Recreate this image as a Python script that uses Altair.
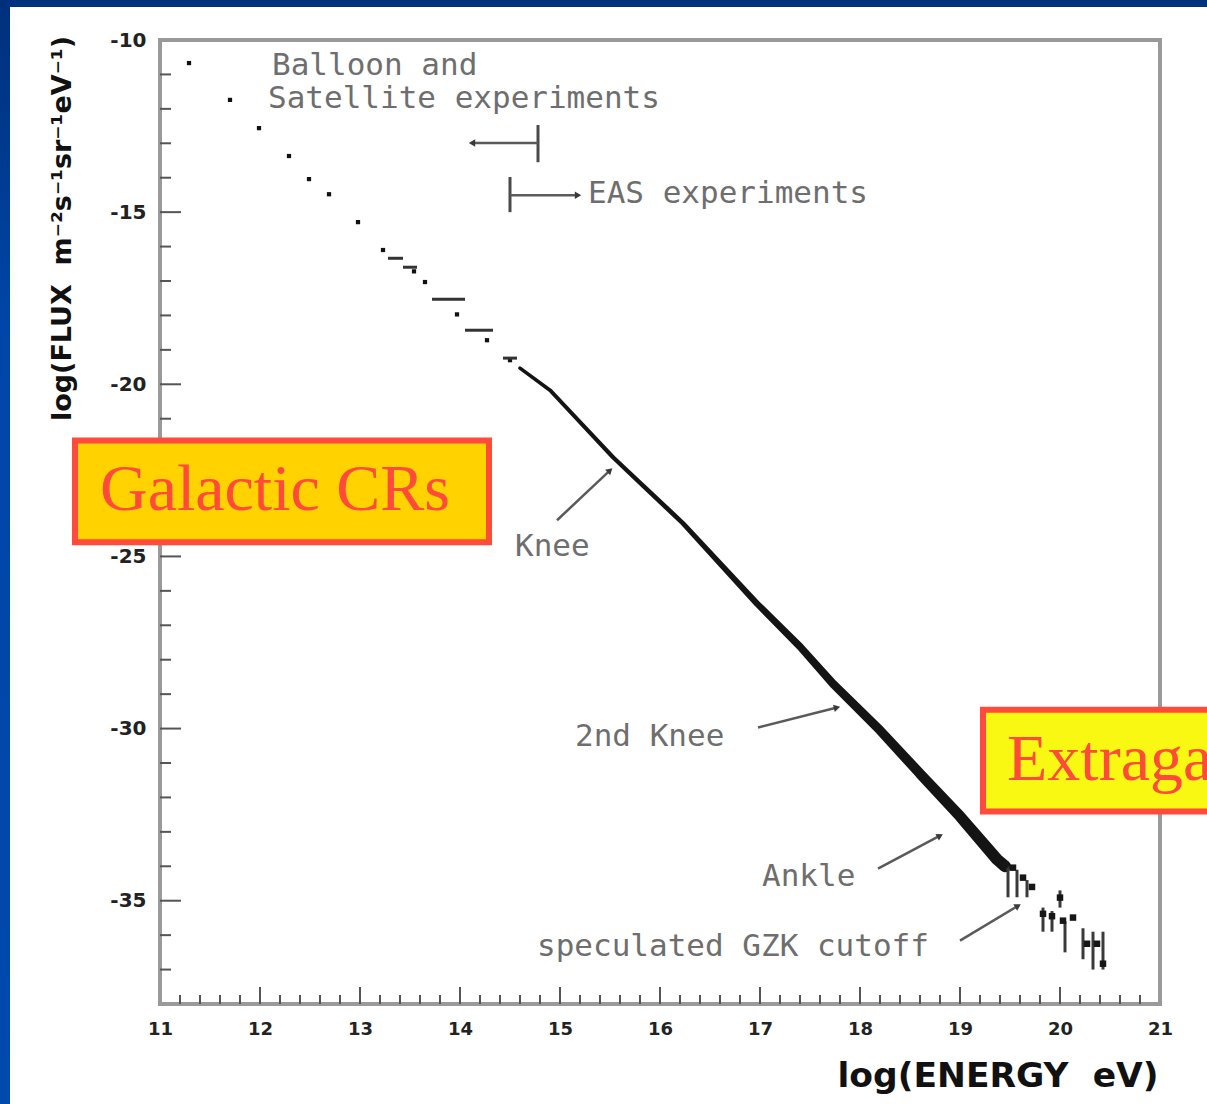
import math
import altair as alt
import pandas as pd

# ---------------- data ----------------
# direct (balloon / satellite) measurements, log10(E/eV) vs log10(flux)
direct_energy = [11.29, 11.70, 11.99, 12.29, 12.49, 12.69, 12.98, 13.23,
                 13.54, 13.65, 13.97, 14.27, 14.50]
direct_flux = [-10.67, -11.74, -12.56, -13.37, -14.04, -14.48, -15.29, -16.10,
               -16.72, -17.03, -17.97, -18.72, -19.30]

# energy bins shown as short horizontal bars
bin_lo = [13.28, 13.43, 13.72, 14.05, 14.43]
bin_hi = [13.43, 13.57, 14.05, 14.33, 14.57]
bin_flux = [-16.34, -16.60, -17.53, -18.43, -19.24]

# dense air-shower band
band_energy = [14.60, 14.90, 15.53, 15.83, 16.23, 16.97, 17.40, 17.73,
               18.20, 18.60, 19.00, 19.37, 19.45]
band_flux = [-19.53, -20.17, -22.12, -22.94, -24.04, -26.37, -27.62, -28.70,
             -30.05, -31.31, -32.55, -33.80, -34.00]

# highest-energy points and their error bars
hi_energy = [19.45, 19.53, 19.63, 19.72, 19.83, 19.92, 20.00, 20.03, 20.13,
             20.27, 20.37, 20.43]
hi_flux = [-33.95, -34.04, -34.33, -34.60, -35.38, -35.45, -34.91, -35.58,
           -35.49, -36.25, -36.25, -36.83]
err_energy = [19.48, 19.57, 19.67, 19.83, 19.92, 20.00, 20.05, 20.23, 20.33, 20.43]
err_top = [-34.0, -34.1, -34.4, -35.2, -35.3, -34.7, -35.6, -35.8, -35.9, -35.9]
err_bot = [-34.9, -34.9, -34.9, -35.9, -35.9, -35.2, -36.5, -36.7, -37.0, -37.0]

# axis labels
x_label_values = [11, 12, 13, 14, 15, 16, 17, 18, 19, 20, 21]
y_label_values = [-10, -15, -20, -25, -30, -35]

# text annotations (left edge / baseline in data units)
note_text = ["Balloon and", "Satellite experiments", "EAS experiments",
             "Knee", "2nd Knee", "Ankle", "speculated GZK cutoff"]
note_e = [12.12, 12.08, 15.28, 14.55, 15.15, 17.02, 14.77]
note_f = [-11.02, -11.98, -14.74, -25.00, -30.52, -34.56, -36.60]

# pointer arrows: start -> tip
arrow_e0 = [14.78, 14.50, 14.97, 16.98, 18.18, 19.00]
arrow_f0 = [-12.99, -14.51, -23.95, -29.97, -34.07, -36.16]
arrow_e1 = [14.12, 15.18, 15.50, 17.77, 18.80, 19.58]
arrow_f1 = [-12.99, -14.51, -22.50, -29.39, -33.11, -35.15]

# end bars of the two range arrows
range_bar_e = [14.78, 14.50]
range_bar_top = [-12.47, -13.98]
range_bar_bot = [-13.55, -15.00]

# labelled boxes
box_text = ["Galactic CRs", "Extragalactic CRs"]
box_e0 = [10.15, 19.23]
box_e1 = [14.29, 22.80]
box_f0 = [-21.63, -29.45]
box_f1 = [-24.59, -32.41]
box_text_e = [12.15, 19.47]
box_text_f = [-23.66, -31.48]
box_fill = ["#ffd200", "#f8f812"]

# ---------------- layout ----------------
W, H = 1000, 964
X_DOM = [11, 21]
Y_DOM = [-38, -10]
PX_X = W / (X_DOM[1] - X_DOM[0])
PX_Y = H / (Y_DOM[1] - Y_DOM[0])

xs = alt.Scale(domain=X_DOM, nice=False, zero=False)
ys = alt.Scale(domain=Y_DOM, nice=False, zero=False)

INK = "#111111"
NOTE_GREY = "#6e6e6e"
RED = "#ff4a3c"
NBSP = "\u00a0"

x_axis = alt.Axis(
    values=x_label_values, labelExpr="'' + datum.value", labelFlush=False,
    ticks=False, domain=False, grid=False,
    labelFont="DejaVu Sans", labelFontSize=18, labelFontWeight="bold",
    labelColor="#222222", labelPadding=16,
    title=f"log(ENERGY{NBSP}{NBSP}eV)", titleFont="DejaVu Sans", titleFontSize=34.5,
    titleFontWeight="bold", titleColor=INK, titleX=998, titleY=72,
    titleAlign="right", titleBaseline="middle")
y_axis = alt.Axis(
    values=y_label_values, labelExpr="'' + datum.value", labelFlush=False,
    ticks=False, domain=False, grid=False,
    labelFont="DejaVu Sans", labelFontSize=20, labelFontWeight="bold",
    labelColor="#222222", labelPadding=14,
    title=f"log(FLUX{NBSP}{NBSP}m⁻²s⁻¹sr⁻¹eV⁻¹)", titleFont="DejaVu Sans",
    titleFontSize=27, titleFontWeight="bold", titleColor=INK,
    titleX=-98, titleY=188, titleAngle=270, titleAlign="center",
    titleBaseline="middle")


def X(field):
    return alt.X(field, type="quantitative", scale=xs, axis=x_axis)


def Y(field):
    return alt.Y(field, type="quantitative", scale=ys, axis=y_axis)


# ---- direct points ----
direct = alt.Chart(pd.DataFrame({"e": direct_energy, "f": direct_flux})).mark_square(
    size=18, color=INK, opacity=1).encode(x=X("e"), y=Y("f"))

# ---- inward ticks ----
x_minor = [round(X_DOM[0] + 0.2 * i, 1) for i in range(1, 50) if i % 5]
x_major = x_label_values[1:-1]
y_minor = [v for v in range(-11, -38, -1) if v % 5]
y_major = y_label_values[1:]

tick_style = dict(color="#555555", strokeWidth=2)
xt_minor = alt.Chart(pd.DataFrame({"e": x_minor})).mark_rule(**tick_style).encode(
    x=X("e"), y=alt.value(H), y2=alt.value(H - 9))
xt_major = alt.Chart(pd.DataFrame({"e": x_major})).mark_rule(**tick_style).encode(
    x=X("e"), y=alt.value(H), y2=alt.value(H - 17))
yt_minor = alt.Chart(pd.DataFrame({"f": y_minor})).mark_rule(**tick_style).encode(
    y=Y("f"), x=alt.value(0), x2=alt.value(11))
yt_major = alt.Chart(pd.DataFrame({"f": y_major})).mark_rule(**tick_style).encode(
    y=Y("f"), x=alt.value(0), x2=alt.value(21))

# ---- data marks ----
bins = alt.Chart(pd.DataFrame({"lo": bin_lo, "hi": bin_hi, "f": bin_flux})).mark_rule(
    color="#333333", strokeWidth=3).encode(x=X("lo"), x2="hi", y=Y("f"))

band = alt.Chart(pd.DataFrame({"e": band_energy, "f": band_flux})).mark_trail(
    color="#141414").encode(
    x=X("e"), y=Y("f"),
    size=alt.Size("e:Q", legend=None,
                  scale=alt.Scale(domain=[14.6, 16.5, 17.6, 19.5],
                                  range=[3.5, 5, 8, 12])),
)

hi_pts = alt.Chart(pd.DataFrame({"e": hi_energy, "f": hi_flux})).mark_square(
    size=42, color="#161616", opacity=1).encode(x=X("e"), y=Y("f"))

err = alt.Chart(pd.DataFrame({"e": err_energy, "t": err_top, "b": err_bot})).mark_rule(
    color="#3a3a3a", strokeWidth=3).encode(x=X("e"), y=Y("t"), y2="b")

# ---- annotations ----
notes = alt.Chart(pd.DataFrame({"txt": note_text, "e": note_e, "f": note_f})).mark_text(
    font="DejaVu Sans Mono", fontSize=31, color=NOTE_GREY, align="left",
    baseline="alphabetic").encode(x=X("e"), y=Y("f"), text="txt:N")

ang = []
for a, b, c, d in zip(arrow_e0, arrow_f0, arrow_e1, arrow_f1):
    dx = (c - a) * PX_X
    dy = (d - b) * PX_Y
    ang.append(math.degrees(math.atan2(dx, dy)) % 360)

arrow_df = pd.DataFrame({"e0": arrow_e0, "f0": arrow_f0, "e1": arrow_e1,
                         "f1": arrow_f1, "ang": ang})
arrow_lines = alt.Chart(arrow_df).mark_rule(color="#5a5a5a", strokeWidth=2.5).encode(
    x=X("e0"), y=Y("f0"), x2="e1", y2="f1")
arrow_heads = alt.Chart(arrow_df).mark_point(
    shape="triangle-up", filled=True, size=55, color="#3a3a3a", opacity=1).encode(
    x=X("e1"), y=Y("f1"), angle=alt.Angle("ang:Q", scale=None))

range_bars = alt.Chart(pd.DataFrame({"e": range_bar_e, "t": range_bar_top,
                                     "b": range_bar_bot})).mark_rule(
    color="#4a4a4a", strokeWidth=3).encode(x=X("e"), y=Y("t"), y2="b")

box_df = pd.DataFrame({"e0": box_e0, "e1": box_e1, "f0": box_f0, "f1": box_f1,
                       "fill": box_fill, "txt": box_text,
                       "te": box_text_e, "tf": box_text_f})
boxes = alt.Chart(box_df).mark_rect(stroke=RED, strokeWidth=6, opacity=1).encode(
    x=X("e0"), x2="e1", y=Y("f0"), y2="f1",
    fill=alt.Fill("fill:N", scale=None))
box_label_g = alt.Chart(box_df.iloc[[0]]).mark_text(
    font="Liberation Serif", fontSize=66, color=RED, baseline="alphabetic",
    align="center").encode(x=X("te"), y=Y("tf"), text="txt:N")
box_label_x = alt.Chart(box_df.iloc[[1]]).mark_text(
    font="Liberation Serif", fontSize=66, color=RED, baseline="alphabetic",
    align="left").encode(x=X("te"), y=Y("tf"), text="txt:N")

# ---- slide frame (blue strips along top and left edge) ----
one = pd.DataFrame({"k": [0]})
blue_top = alt.Chart(one).mark_rect(color="#00317e", opacity=1).encode(
    x=alt.value(-160), x2=alt.value(W + 47), y=alt.value(-40), y2=alt.value(-33))
blue_left = alt.Chart(one).mark_rect(
    opacity=1,
    color=alt.LinearGradient(
        gradient="linear", x1=0, x2=0, y1=0, y2=1,
        stops=[alt.GradientStop(color="#00307c", offset=0),
               alt.GradientStop(color="#0046a8", offset=0.3),
               alt.GradientStop(color="#0049ad", offset=1)])).encode(
    x=alt.value(-160), x2=alt.value(-150), y=alt.value(-40), y2=alt.value(H + 100))

chart = alt.layer(
    direct, xt_minor, xt_major, yt_minor, yt_major, bins, band, err, hi_pts,
    range_bars, arrow_lines, arrow_heads, notes, boxes, box_label_g, box_label_x,
    blue_top, blue_left,
).properties(
    width=W, height=H,
    autosize=alt.AutoSizeParams(type="none"),
    padding={"left": 160, "top": 40, "right": 47, "bottom": 100},
    background="white",
).configure_view(stroke="#9a9a9a", strokeWidth=4)

chart.save("out.html", embed_options={"renderer": "svg", "actions": False})
